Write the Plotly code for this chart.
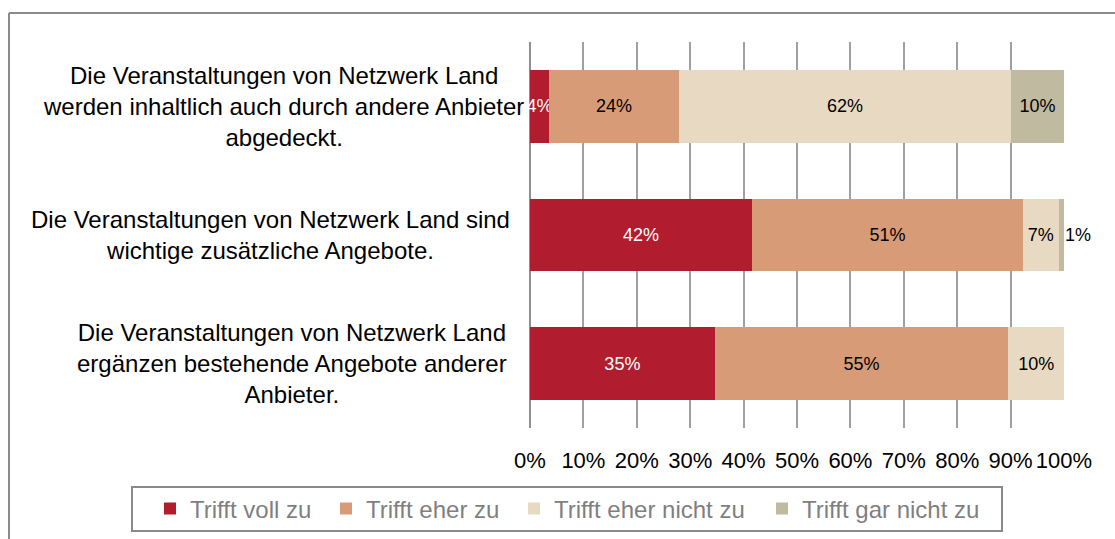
import plotly.graph_objects as go

categories = [
    "Die Veranstaltungen von Netzwerk Land<br>werden inhaltlich auch durch andere Anbieter<br>abgedeckt.",
    "Die Veranstaltungen von Netzwerk Land sind<br>wichtige zusätzliche Angebote.",
    "Die Veranstaltungen von Netzwerk Land<br>ergänzen bestehende Angebote anderer<br>Anbieter.",
]
series_names = ["Trifft voll zu", "Trifft eher zu", "Trifft eher nicht zu", "Trifft gar nicht zu"]
voll_zu = [3.6, 41.6, 34.6]
eher_zu = [24.3, 50.7, 55.0]
eher_nicht_zu = [62.2, 6.7, 10.4]
gar_nicht_zu = [9.9, 1.0, 0.0]
tick_vals = [0, 10, 20, 30, 40, 50, 60, 70, 80, 90, 100]
tick_text = ["0%", "10%", "20%", "30%", "40%", "50%", "60%", "70%", "80%", "90%", "100%"]

colors = ["#B11D2E", "#D89B78", "#E8D9C2", "#C0BBA0"]
text_colors = ["white", "black", "black", "black"]
all_series = [voll_zu, eher_zu, eher_nicht_zu, gar_nicht_zu]

FONT = "Liberation Sans, Arial, sans-serif"
W, H = 1115, 539
# plot area in pixels
L, R, T, B = 530, 1064, 42, 428
X_MAX = 100 + 1e-6  # tiny headroom so float sums of 100% stay inside the range

def fx(p):
    return p / W
def fy(p):
    return (H - p) / H

legend_ids = ["legend", "legend2", "legend3", "legend4"]
legend_marker_left = [169, 345, 533, 781]

fig = go.Figure()
for name, vals, col, tcol, lid in zip(series_names, all_series, colors, text_colors, legend_ids):
    inside_labels = [f"{v:.0f}%" if v >= 3 else "" for v in vals]
    fig.add_trace(go.Bar(
        y=categories, x=vals, name=name, orientation="h",
        marker=dict(color=col, line=dict(width=0)),
        text=inside_labels, textposition="inside", textangle=0,
        insidetextanchor="middle",
        insidetextfont=dict(color=tcol, size=18, family=FONT),
        cliponaxis=False, legend=lid, showlegend=True,
        hoverinfo="skip",
    ))

annotations = []
# labels for segments too thin to hold text: shown just after the bar end
for i, cat in enumerate(categories):
    v = gar_nicht_zu[i]
    if 0 < v < 3:
        total = voll_zu[i] + eher_zu[i] + eher_nicht_zu[i] + gar_nicht_zu[i]
        annotations.append(dict(
            x=total / X_MAX, xref="x domain", y=cat, yref="y", text=f"{v:.0f}%",
            showarrow=False, xanchor="left", yanchor="middle", xshift=-1,
            font=dict(size=18, color="black", family=FONT),
        ))

label_centers = [283, 270, 292]
for cat, cx in zip(categories, label_centers):
    annotations.append(dict(
        x=fx(cx), xref="paper", y=cat, yref="y",
        text=cat, showarrow=False, align="center",
        xanchor="center", yanchor="middle",
        font=dict(size=24, color="black", family=FONT),
    ))

legend_common = dict(
    orientation="h", xanchor="left", yanchor="middle", y=fy(509),
    bgcolor="rgba(0,0,0,0)", borderwidth=0,
    font=dict(size=24, color="#7F7F7F", family=FONT),
    itemclick=False, itemdoubleclick=False,
)
legends = {}
for lid, mx in zip(legend_ids, legend_marker_left):
    legends[lid] = dict(legend_common, x=fx(mx - 19))

fig.update_layout(
    width=W, height=H,
    showlegend=True,
    barmode="stack", bargap=0.433,
    margin=dict(l=0, r=0, t=0, b=0, autoexpand=False),
    paper_bgcolor="white", plot_bgcolor="white",
    font=dict(family=FONT, color="black"),
    uniformtext=dict(minsize=18, mode="show"),
    xaxis=dict(
        domain=[fx(L), fx(R)],
        range=[0, X_MAX], tickvals=tick_vals, ticktext=tick_text,
        showgrid=True, gridcolor="#A0A0A0", gridwidth=2,
        zeroline=True, zerolinecolor="#909090", zerolinewidth=2,
        showline=False, ticks="outside", ticklen=13, tickcolor="rgba(0,0,0,0)",
        tickfont=dict(size=22, color="black", family=FONT),
        fixedrange=True, automargin=False,
    ),
    yaxis=dict(
        domain=[fy(B), fy(T)],
        autorange="reversed", showticklabels=False, showgrid=False,
        zeroline=False, showline=False, ticks="", automargin=False,
        fixedrange=True,
    ),
    annotations=annotations,
    shapes=[
        # outer chart frame (top and left edges visible)
        dict(type="line", xref="paper", yref="paper",
             x0=fx(9), x1=fx(1130), y0=fy(13), y1=fy(13),
             line=dict(color="#8A8A8A", width=2)),
        dict(type="line", xref="paper", yref="paper",
             x0=fx(9), x1=fx(9), y0=fy(13), y1=fy(560),
             line=dict(color="#8A8A8A", width=2)),
        # legend box
        dict(type="rect", xref="paper", yref="paper",
             x0=fx(132), x1=fx(1002), y0=fy(531), y1=fy(487),
             line=dict(color="#8A8A8A", width=2), fillcolor="rgba(0,0,0,0)"),
    ],
    **legends,
)

fig.write_html("out.html", config={"displayModeBar": False},
               post_script="document.body.style.margin='0px';")
